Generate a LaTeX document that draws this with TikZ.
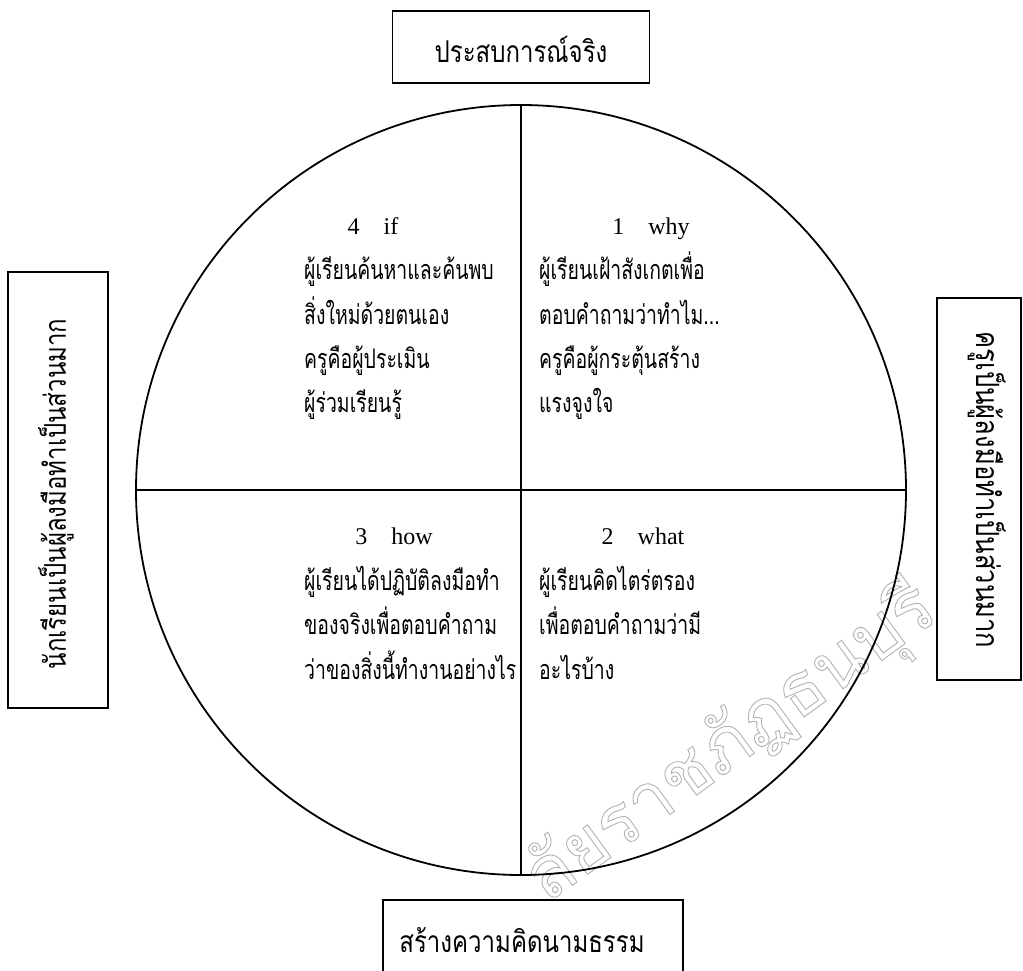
\documentclass[tikz,border=0pt]{standalone}
\usepackage{fontspec}
\setmainfont{Liberation Serif}
\newfontfamily\thai[Script=Thai,FakeStretch=0.8]{Loma}
\newfontfamily\thaiq[Script=Thai,FakeStretch=0.72]{Loma}
\newfontfamily\thaiwm[Script=Thai]{Loma}
\begin{document}
\begin{tikzpicture}[x=1pt,y=-1pt,
  box/.style={draw, line width=1.8pt, fill=white, inner sep=0pt},
  divl/.style={line width=1.4pt},
  thx/.style={font=\thaiq\fontsize{27}{30}\selectfont, inner sep=0pt},
  boxtx/.style={font=\thai\fontsize{30}{34}\selectfont, inner sep=0pt},
  lat/.style={font=\fontsize{24}{28}\selectfont, inner sep=0pt},
  wm/.style={font=\thaiwm\fontsize{72}{80}\selectfont, text=gray!60, inner sep=0pt}]
\useasboundingbox (0,0) rectangle (1023,970);
\clip (0,0) rectangle (1023,970);
% watermark (outlined letters)
\node[wm, rotate=36] (wmark) at (731,744) {\special{pdf:code 1 Tr 0.9 w}ลัยราชภัฏธนบุรี\special{pdf:code 0 Tr}};
% circle and dividers
\node[circle, draw, line width=1.8pt, minimum size=770pt, inner sep=0pt] (c) at (521,490) {};
\draw[divl] (c.north) -- (c.south);
\draw[divl] (c.west) -- (c.east);
% outer boxes
\node[box, minimum width=257pt, minimum height=72pt] (top) at (521,47) {};
\node[boxtx] (toptext) at (521,49) {ประสบการณ์จริง};
\node[box, minimum width=100pt, minimum height=436pt] (left) at (58,490) {};
\node[boxtx, rotate=90] (lefttext) at (56,494) {นักเรียนเป็นผู้ลงมือทำเป็นส่วนมาก};
\node[box, minimum width=84pt, minimum height=382pt] (right) at (979,489) {};
\node[boxtx, rotate=-90, font=\thai\fontsize{32}{36}\selectfont] (righttext) at (987,490) {ครูเป็นผู้ลงมือทำเป็นส่วนมาก};
\node[box, minimum width=300pt, minimum height=100pt] (bottom) at (533,950) {};
\node[boxtx] (bottomtext) at (522,940) {สร้างความคิดนามธรรม};
% quadrant 4 (top left)
\node[lat, anchor=base] (h4) at (373,234) {4\hspace{1em}if};
\node[thx, anchor=base west] (q4a) at (304,279) {ผู้เรียนค้นหาและค้นพบ};
\node[thx, anchor=base west] (q4b) at (304,324) {สิ่งใหม่ด้วยตนเอง};
\node[thx, anchor=base west] (q4c) at (304,368) {ครูคือผู้ประเมิน};
\node[thx, anchor=base west] (q4d) at (304,412) {ผู้ร่วมเรียนรู้};
% quadrant 1 (top right)
\node[lat, anchor=base] (h1) at (651,234) {1\hspace{1em}why};
\node[thx, anchor=base west] (q1a) at (539,279) {ผู้เรียนเฝ้าสังเกตเพื่อ};
\node[thx, anchor=base west] (q1b) at (539,324) {ตอบคำถามว่าทำไม...};
\node[thx, anchor=base west] (q1c) at (539,368) {ครูคือผู้กระตุ้นสร้าง};
\node[thx, anchor=base west] (q1d) at (539,412) {แรงจูงใจ};
% quadrant 3 (bottom left)
\node[lat, anchor=base] (h3) at (394,544) {3\hspace{1em}how};
\node[thx, anchor=base west] (q3a) at (304,590) {ผู้เรียนได้ปฏิบัติลงมือทำ};
\node[thx, anchor=base west] (q3b) at (304,634) {ของจริงเพื่อตอบคำถาม};
\node[thx, anchor=base west] (q3c) at (304,679) {ว่าของสิ่งนี้ทำงานอย่างไร};
% quadrant 2 (bottom right)
\node[lat, anchor=base] (h2) at (643,544) {2\hspace{1em}what};
\node[thx, anchor=base west] (q2a) at (539,590) {ผู้เรียนคิดไตร่ตรอง};
\node[thx, anchor=base west] (q2b) at (539,634) {เพื่อตอบคำถามว่ามี};
\node[thx, anchor=base west] (q2c) at (539,679) {อะไรบ้าง};
\end{tikzpicture}
\end{document}
